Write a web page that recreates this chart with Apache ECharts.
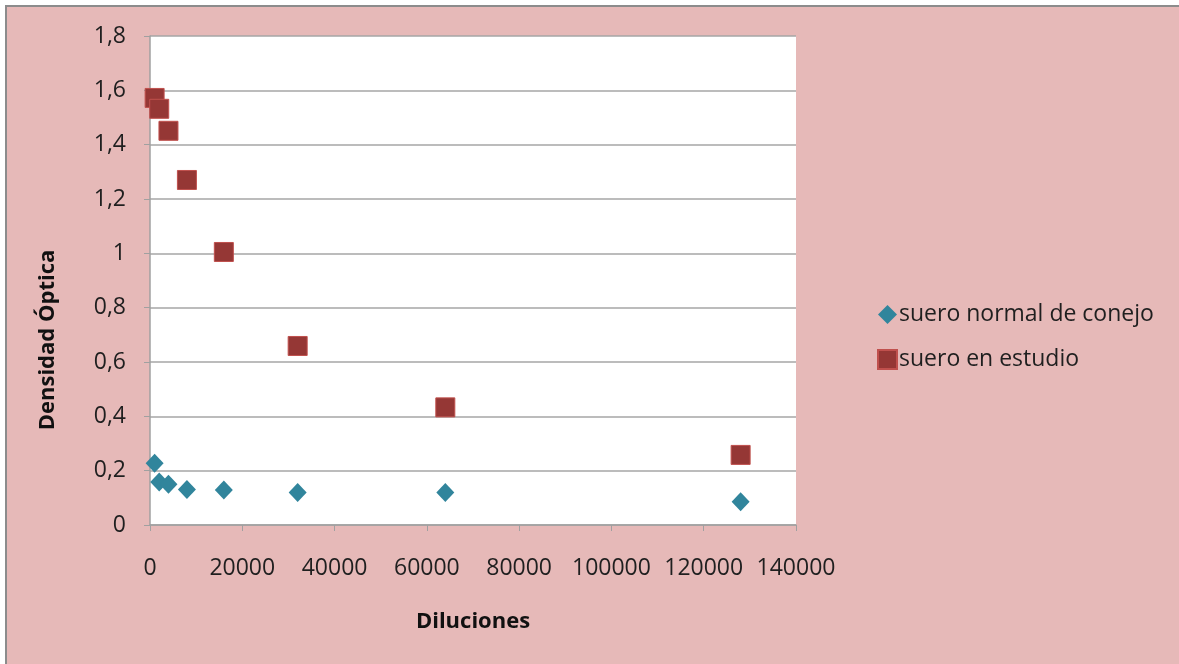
<!DOCTYPE html>
<html>
<head>
<meta charset="utf-8">
<script src="https://cdn.jsdelivr.net/npm/echarts@6/dist/echarts.min.js"></script>
<style>
  html, body { margin: 0; padding: 0; background: #fff; }
  #frame {
    position: absolute; left: 5px; top: 5px; right: 0; bottom: 0;
    border-left: 2px solid #8c8c8c; border-top: 2px solid #8c8c8c; background: #e6b9b8;
  }
  #main { width: 1179px; height: 664px; position: absolute; left: 0; top: 0; }
</style>
</head>
<body>
<div id="frame"></div>
<div id="main"></div>
<script>
// diluciones (eje X)
const diluciones = [1000, 2000, 4000, 8000, 16000, 32000, 64000, 128000]
// densidad óptica
const sueroNormal = [0.227, 0.158, 0.150, 0.131, 0.129, 0.120, 0.120, 0.086]
const sueroEstudio = [1.572, 1.532, 1.451, 1.270, 1.005, 0.659, 0.433, 0.258]
const nombres = ['suero normal de conejo', 'suero en estudio']

const font = '"Open Sans", "Liberation Sans", sans-serif'
const chart = echarts.init(document.getElementById('main'))

chart.setOption({
  backgroundColor: 'transparent',
  textStyle: { fontFamily: font },
  grid: { left: 150, top: 36, width: 646, height: 489 },
  legend: {
    orient: 'vertical',
    left: 872,
    top: 298,
    itemGap: 22,
    itemWidth: 19,
    itemHeight: 19,
    itemGap: 22,
    textStyle: { fontSize: 23, color: '#1f1f1f', fontFamily: font, padding: [0, 0, 0, -3] },
    data: [
      { name: nombres[0], icon: 'diamond' },
      { name: nombres[1], icon: 'rect' }
    ]
  },
  xAxis: {
    type: 'value',
    min: 0, max: 140000, interval: 20000,
    name: 'Diluciones',
    nameLocation: 'middle',
    nameGap: 86,
    nameTextStyle: { fontSize: 22, fontWeight: 'bold', color: '#111', fontFamily: font },
    axisLine: { lineStyle: { color: '#a0a0a0', width: 1.5 } },
    axisTick: { show: true, length: 6, lineStyle: { color: '#a0a0a0' } },
    axisLabel: { fontSize: 23, color: '#1f1f1f', margin: 32, formatter: v => String(v) },
    splitLine: { show: false }
  },
  yAxis: {
    type: 'value',
    min: 0, max: 1.8, interval: 0.2,
    axisLine: { show: true, lineStyle: { color: '#a0a0a0', width: 1.5 } },
    axisTick: { show: true, length: 6, lineStyle: { color: '#a0a0a0' } },
    axisLabel: {
      fontSize: 23, color: '#1f1f1f', margin: 24,
      formatter: v => String(Math.round(v * 10) / 10).replace('.', ',')
    },
    splitLine: { lineStyle: { color: '#a6a6a6', width: 1.5 } }
  },
  graphic: [
    {
      type: 'rect', z: -1,
      shape: { x: 150, y: 36, width: 646, height: 489 },
      style: { fill: '#fff' }
    },
    {
      type: 'text',
      x: 48, y: 340,
      rotation: Math.PI / 2,
      style: {
        text: 'Densidad Óptica',
        font: 'bold 22px ' + font,
        fill: '#111',
        align: 'center',
        verticalAlign: 'middle'
      }
    }
  ],
  series: [
    {
      name: nombres[0],
      type: 'scatter',
      symbol: 'diamond',
      symbolSize: [18, 19],
      itemStyle: { color: '#31859c', opacity: 1 },
      data: diluciones.map((d, i) => [d, sueroNormal[i]])
    },
    {
      name: nombres[1],
      type: 'scatter',
      symbol: 'rect',
      symbolSize: 19,
      itemStyle: { color: '#953735', borderColor: '#c0504d', borderWidth: 1, opacity: 1 },
      data: diluciones.map((d, i) => [d, sueroEstudio[i]])
    }
  ]
})
</script>
</body>
</html>
